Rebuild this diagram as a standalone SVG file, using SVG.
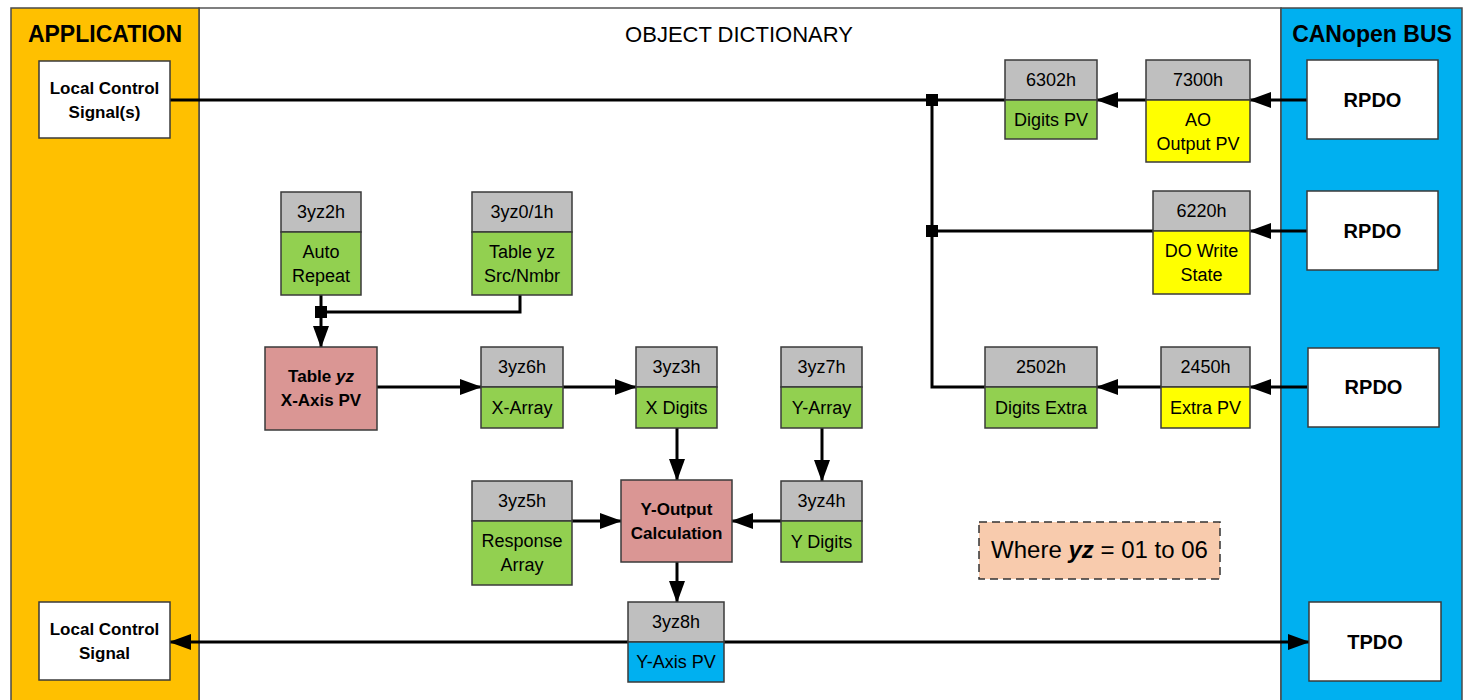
<svg xmlns="http://www.w3.org/2000/svg" width="1466" height="700" viewBox="0 0 1466 700">
<style>
text{font-family:"Liberation Sans",Arial,sans-serif;fill:#000;text-anchor:middle}
.title{font-size:23px;font-weight:bold}
.od{font-size:22px}
.b{stroke:#3a3a3a;stroke-width:1.5}
.hd{fill:#BFBFBF}
.gr{fill:#92D050}
.ye{fill:#FFFF00}
.bl{fill:#00B0F0}
.pk{fill:#DA9694}
.wh{fill:#FFFFFF}
.t{font-size:18px}
.bt{font-size:17px;font-weight:bold}
.pt{font-size:20px;font-weight:bold}
.c{fill:none;stroke:#000;stroke-width:3}
</style>
<defs>
<marker id="ah" markerUnits="userSpaceOnUse" markerWidth="22" markerHeight="16" refX="21" refY="8" orient="auto-start-reverse" viewBox="0 0 22 16">
<path d="M0,0 L22,8 L0,16 Z" fill="#000"/>
</marker>
</defs>
<rect width="1466" height="700" fill="#fff"/>
<g id="panels">
<rect x="199" y="8" width="1082" height="710" fill="#fff" stroke="#555" stroke-width="1.5"/>
<rect x="11" y="8" width="188" height="710" fill="#FFC000" stroke="#4a4a4a" stroke-width="1.5"/>
<rect x="1281" y="8" width="181" height="710" fill="#00B0F0" stroke="#4a4a4a" stroke-width="1.5"/>
<text class="title" x="105" y="42">APPLICATION</text>
<text class="od" x="739" y="42">OBJECT DICTIONARY</text>
<text class="title" x="1372" y="42">CANopen BUS</text>
</g>
<g id="connectors">
<path class="c" d="M170,100 H1005"/>
<path class="c" d="M932,100 V387 H985"/>
<path class="c" d="M932,231 H1153"/>
<path class="c" d="M1146,100 H1097" marker-end="url(#ah)"/>
<path class="c" d="M1307,100 H1250" marker-end="url(#ah)"/>
<path class="c" d="M1307,231 H1250" marker-end="url(#ah)"/>
<path class="c" d="M1307,387 H1250" marker-end="url(#ah)"/>
<path class="c" d="M1161,387 H1097" marker-end="url(#ah)"/>
<path class="c" d="M321,295 V347" marker-end="url(#ah)"/>
<path class="c" d="M520,295 V312 H321"/>
<path class="c" d="M377,387 H481" marker-end="url(#ah)"/>
<path class="c" d="M563,387 H636" marker-end="url(#ah)"/>
<path class="c" d="M677,428 V480" marker-end="url(#ah)"/>
<path class="c" d="M822,428 V481" marker-end="url(#ah)"/>
<path class="c" d="M572,521 H621" marker-end="url(#ah)"/>
<path class="c" d="M781,521 H732" marker-end="url(#ah)"/>
<path class="c" d="M677,562 V602" marker-end="url(#ah)"/>
<path class="c" d="M170,642 H1309" marker-start="url(#ah)" marker-end="url(#ah)"/>
<rect x="926" y="94" width="12" height="12" fill="#000"/>
<rect x="926" y="225" width="12" height="12" fill="#000"/>
<rect x="315" y="306" width="12" height="12" fill="#000"/>
</g>
<g id="lcs1">
<rect class="b wh" x="39" y="61" width="131" height="77"/>
<text class="bt" x="104.5" y="93.5">Local Control</text>
<text class="bt" x="104.5" y="117.5">Signal(s)</text>
</g>
<g id="lcs2">
<rect class="b wh" x="39" y="602" width="131" height="78"/>
<text class="bt" x="104.5" y="635">Local Control</text>
<text class="bt" x="104.5" y="659">Signal</text>
</g>
<g id="rpdo1">
<rect class="b wh" x="1307" y="60" width="131" height="79"/>
<text class="pt" x="1372.5" y="107">RPDO</text>
</g>
<g id="rpdo2">
<rect class="b wh" x="1307" y="191" width="131" height="79"/>
<text class="pt" x="1372.5" y="238">RPDO</text>
</g>
<g id="rpdo3">
<rect class="b wh" x="1308" y="348" width="131" height="79"/>
<text class="pt" x="1373.5" y="394">RPDO</text>
</g>
<g id="tpdo">
<rect class="b wh" x="1309" y="602" width="132" height="79"/>
<text class="pt" x="1375" y="649">TPDO</text>
</g>
<g id="n6302">
<rect class="b hd" x="1005" y="60" width="92" height="40"/>
<rect class="b gr" x="1005" y="100" width="92" height="39"/>
<text class="t" x="1051" y="86">6302h</text>
<text class="t" x="1051" y="126">Digits PV</text>
</g>
<g id="n7300">
<rect class="b hd" x="1146" y="60" width="104" height="40"/>
<rect class="b ye" x="1146" y="100" width="104" height="62"/>
<text class="t" x="1198" y="86">7300h</text>
<text class="t" x="1198" y="126">AO</text>
<text class="t" x="1198" y="150">Output PV</text>
</g>
<g id="n6220">
<rect class="b hd" x="1153" y="191" width="97" height="40"/>
<rect class="b ye" x="1153" y="231" width="97" height="63"/>
<text class="t" x="1201.5" y="217">6220h</text>
<text class="t" x="1201.5" y="257">DO Write</text>
<text class="t" x="1201.5" y="281">State</text>
</g>
<g id="n2502">
<rect class="b hd" x="985" y="347" width="112" height="40"/>
<rect class="b gr" x="985" y="387" width="112" height="41"/>
<text class="t" x="1041" y="373">2502h</text>
<text class="t" x="1041" y="414">Digits Extra</text>
</g>
<g id="n2450">
<rect class="b hd" x="1161" y="347" width="89" height="40"/>
<rect class="b ye" x="1161" y="387" width="89" height="41"/>
<text class="t" x="1205.5" y="373">2450h</text>
<text class="t" x="1205.5" y="414">Extra PV</text>
</g>
<g id="n3yz2">
<rect class="b hd" x="281" y="192" width="80" height="40"/>
<rect class="b gr" x="281" y="232" width="80" height="63"/>
<text class="t" x="321" y="218">3yz2h</text>
<text class="t" x="321" y="258">Auto</text>
<text class="t" x="321" y="282">Repeat</text>
</g>
<g id="n3yz01">
<rect class="b hd" x="472" y="192" width="100" height="40"/>
<rect class="b gr" x="472" y="232" width="100" height="63"/>
<text class="t" x="522" y="218">3yz0/1h</text>
<text class="t" x="522" y="258">Table yz</text>
<text class="t" x="522" y="282">Src/Nmbr</text>
</g>
<g id="tablex">
<rect class="b pk" x="265" y="347" width="112" height="83"/>
<text class="bt" x="321" y="382">Table <tspan font-style="italic">yz</tspan></text>
<text class="bt" x="321" y="406">X-Axis PV</text>
</g>
<g id="n3yz6">
<rect class="b hd" x="481" y="347" width="82" height="40"/>
<rect class="b gr" x="481" y="387" width="82" height="41"/>
<text class="t" x="522" y="373">3yz6h</text>
<text class="t" x="522" y="414">X-Array</text>
</g>
<g id="n3yz3">
<rect class="b hd" x="636" y="347" width="81" height="40"/>
<rect class="b gr" x="636" y="387" width="81" height="41"/>
<text class="t" x="676.5" y="373">3yz3h</text>
<text class="t" x="676.5" y="414">X Digits</text>
</g>
<g id="n3yz7">
<rect class="b hd" x="781" y="347" width="81" height="40"/>
<rect class="b gr" x="781" y="387" width="81" height="41"/>
<text class="t" x="821.5" y="373">3yz7h</text>
<text class="t" x="821.5" y="414">Y-Array</text>
</g>
<g id="n3yz5">
<rect class="b hd" x="472" y="481" width="100" height="40"/>
<rect class="b gr" x="472" y="521" width="100" height="64"/>
<text class="t" x="522" y="507">3yz5h</text>
<text class="t" x="522" y="547">Response</text>
<text class="t" x="522" y="571">Array</text>
</g>
<g id="yout">
<rect class="b pk" x="621" y="480" width="111" height="82"/>
<text class="bt" x="676.5" y="515">Y-Output</text>
<text class="bt" x="676.5" y="539">Calculation</text>
</g>
<g id="n3yz4">
<rect class="b hd" x="781" y="481" width="81" height="40"/>
<rect class="b gr" x="781" y="521" width="81" height="41"/>
<text class="t" x="821.5" y="507">3yz4h</text>
<text class="t" x="821.5" y="548">Y Digits</text>
</g>
<g id="n3yz8">
<rect class="b hd" x="628" y="602" width="96" height="40"/>
<rect class="b bl" x="628" y="642" width="96" height="40"/>
<text class="t" x="676" y="628">3yz8h</text>
<text class="t" x="676" y="668">Y-Axis PV</text>
</g>
<g id="note">
<rect x="979" y="522" width="241" height="57" fill="#F8CBAD" stroke="#333" stroke-width="1.5" stroke-dasharray="8,5"/>
<text x="1099.5" y="558" font-size="24">Where <tspan font-weight="bold" font-style="italic">yz</tspan> = 01 to 06</text>
</g>
</svg>
